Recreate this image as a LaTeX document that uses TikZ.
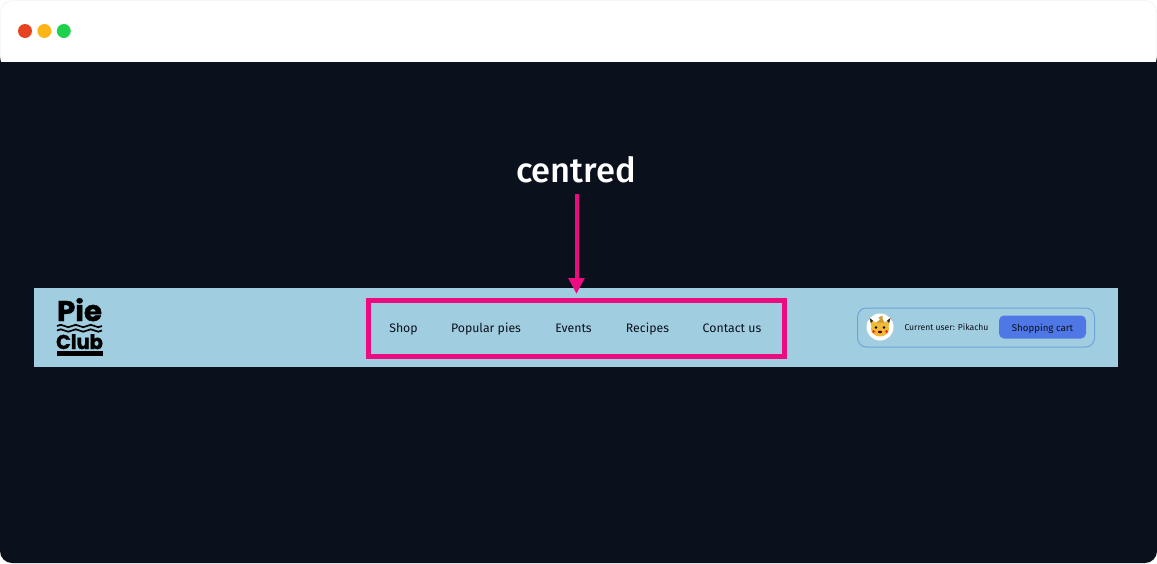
\documentclass[tikz,border=0pt]{standalone}
\usepackage{fontspec}
\setmainfont{Fira Sans}
\newfontfamily\mediumfont{Fira Sans Medium}
\newfontfamily\logofont[FakeBold=1.6]{Poppins Bold}
\usetikzlibrary{positioning,arrows.meta}
\definecolor{pagedark}{HTML}{0A111C}
\definecolor{barblue}{HTML}{A0CDDF}
\definecolor{markpink}{HTML}{EC0B80}
\definecolor{cartblue}{HTML}{4F78E6}
\definecolor{userline}{HTML}{6FA3DA}
\definecolor{pikayellow}{HTML}{F0B93A}
\tikzset{
  navlink/.style={font=\fontsize{12.3}{12.3}\selectfont, text=pagedark, inner sep=0pt, anchor=base},
  dot/.style={circle, minimum size=14pt, inner sep=0pt},
  logotext/.style={text=black, inner sep=0pt, anchor=base},
  logowave/.style={black, line width=1.7pt}
}
\begin{document}
\begin{tikzpicture}[x=1pt,y=-1pt]
    \useasboundingbox (0,0) rectangle (1157,563);
    % window
    \fill[white] (0,0) rectangle (1157,563);
    \draw[black!8, rounded corners=12pt, fill=white] (0.5,0.5) rectangle (1156.5,70);
    \fill[pagedark, rounded corners=12pt] (0,50) rectangle (1157,563);
    \fill[pagedark] (0,62) rectangle (1157,80);
    \fill[white] (1,40) rectangle (1156,62);
    \node[dot, fill={rgb,255:red,232;green,67;blue,31}] (btnred) at (25,31) {};
    \node[dot, fill={rgb,255:red,253;green,180;blue,21}, right=5pt of btnred] (btnamber) {};
    \node[dot, fill={rgb,255:red,30;green,210;blue,78}, right=5pt of btnamber] (btngreen) {};

    % header bar
    \fill[barblue] (34,288) rectangle (1117.5,367);

    % logo
    \node[logotext, font=\fontsize{28.5}{28.5}\logofont] (pie) at (79.5,321) {\scalebox{1.03}[1]{Pie}};
    \node[logotext, font=\fontsize{20}{20}\logofont] (club) at (79.5,349) {\scalebox{0.97}[1]{Club}};
    \draw[logowave] (57,326) foreach \i in {0,1,2} {sin (60.75+\i*15,324.8) cos (64.5+\i*15,326) sin (68.25+\i*15,327.2) cos (72+\i*15,326)};
    \draw[logowave] (57,330.5) foreach \i in {0,1,2} {sin (60.75+\i*15,329.3) cos (64.5+\i*15,330.5) sin (68.25+\i*15,331.7) cos (72+\i*15,330.5)};
    \fill[black] (57,351) rectangle (102.5,356);

    % menu
    \node[navlink] (shop) at (403.5,332) {Shop};
    \node[navlink] (popular) at (486,332) {Popular pies};
    \node[navlink] (events) at (573.5,332) {Events};
    \node[navlink] (recipes) at (647.5,332) {Recipes};
    \node[navlink] (contact) at (732,332) {Contact us};

    \node[draw=markpink, line width=5pt, minimum width=416pt, minimum height=56pt, inner sep=0pt] (navbox) at (576.5,328.5) {};
    \node[text=white, font=\fontsize{34.5}{34.5}\mediumfont, inner sep=0pt] (centred) at (576,170) {centred};
    \coordinate (arrowstart) at (576.5,194);
    \draw[markpink, line width=4pt, -{Triangle[width=15.5pt,length=16pt]}, shorten >=4pt] (arrowstart) -- (navbox.north);

    % user panel
    \node[draw=userline, line width=1pt, rounded corners=9pt, minimum width=237pt, minimum height=39pt, inner sep=0pt] (userpanel) at (976,327.5) {};
    \node[circle, fill=white, minimum size=27pt, inner sep=0pt] (avatar) at (880,327) {};
    \fill[pikayellow] (869.5,318) -- (876,323) -- (872,329) -- cycle;
    \fill[pikayellow] (890.5,318) -- (884,323) -- (888,329) -- cycle;
    \fill[black!85] (869.5,318) -- (873,320.7) -- (871,323) -- cycle;
    \fill[black!85] (890.5,318) -- (887,320.7) -- (889,323) -- cycle;
    \fill[pikayellow] (880,329) ellipse (9pt and 7.5pt);
    \fill[pikayellow!85!black] (876.5,322.5) -- (880,319.5) -- (878.5,317.5) -- (882.5,315.5) -- (882.5,319) -- (884.5,322.5) -- cycle;
    \fill[black] (876,327.5) circle (1.3pt) (884,327.5) circle (1.3pt);
    \fill[red!70!orange] (873.5,331.5) circle (1.5pt) (886.5,331.5) circle (1.5pt);
    \fill[black!70!red] (880,332) ellipse (2pt and 1.3pt);
    \node[text=pagedark, font=\fontsize{8.6}{8.6}\selectfont, inner sep=0pt, anchor=base] (username) at (946.5,330.5) {Current user: Pikachu};
    \node[fill=cartblue, rounded corners=5pt, minimum width=87pt, minimum height=23pt, inner sep=0pt] (cartbtn) at (1042.5,327) {};
    \node[text=pagedark, font=\fontsize{9.7}{9.7}\selectfont, inner sep=0pt, anchor=base] (carttext) at (1042.5,331) {Shopping cart};
\end{tikzpicture}
\end{document}
